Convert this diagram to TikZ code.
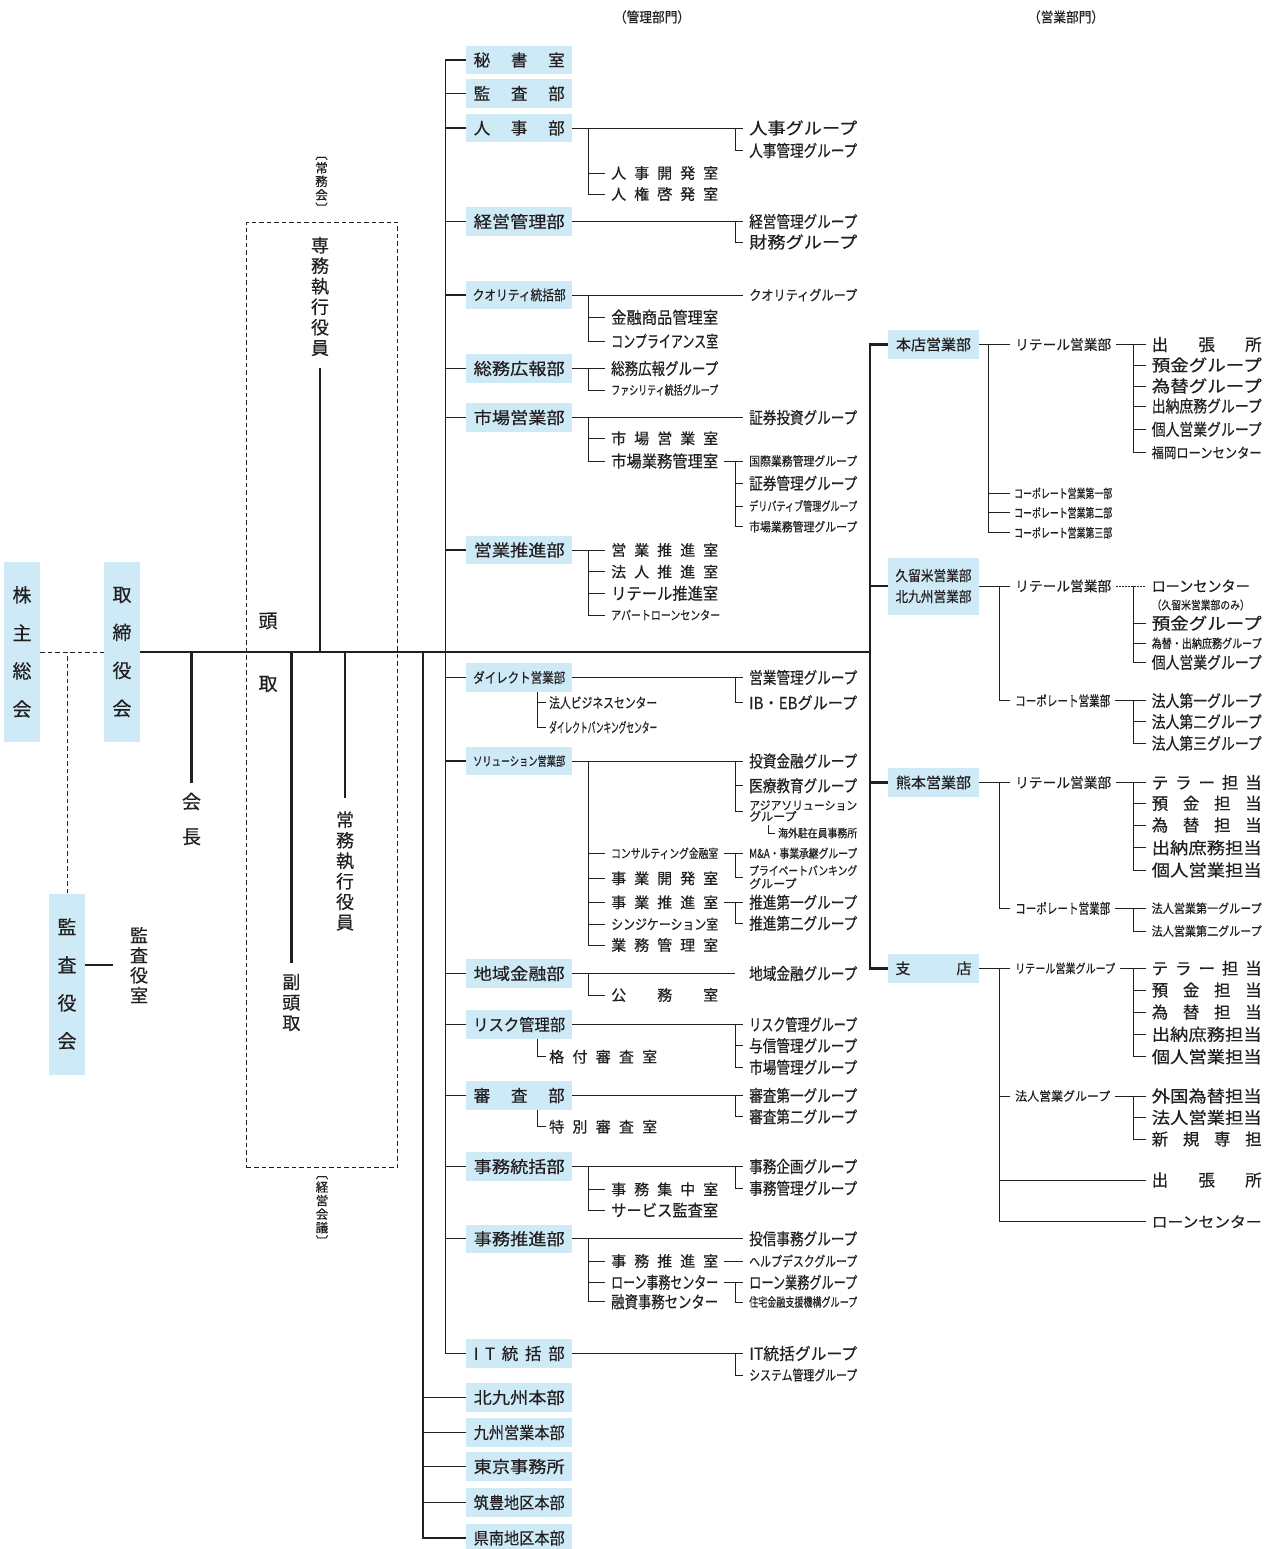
\documentclass[tikz,border=0pt]{standalone}
\usepackage{fontspec}
\setmainfont{Noto Sans CJK JP}[BoldFont={Noto Sans CJK JP}, BoldFeatures={FakeBold=0.4}]
\usepackage{graphicx}
\definecolor{boxblue}{RGB}{205,234,246}
\definecolor{ink}{RGB}{35,31,32}
\newcommand\fzA{\fontsize{16.5}{19}\selectfont}
\newcommand\fzS{\fontsize{15}{18}\selectfont}
\newcommand\fzB{\fontsize{14}{16}\selectfont}
\newcommand\fzC{\fontsize{12.5}{14}\selectfont}
\newcommand\fzD{\fontsize{11.5}{13}\selectfont}
\newsavebox\fitbx
\newcommand\fitw[2]{\sbox\fitbx{#2}\pgfmathsetmacro\fitf{#1/\the\wd\fitbx}\scalebox{\fitf}[1]{\usebox\fitbx}}
\ExplSyntaxOn
\NewDocumentCommand\spr{mm}{\makebox[#1pt]{\tl_map_inline:nn{#2}{##1\hfill}\unskip}}
\ExplSyntaxOff
\tikzset{
 box/.style={fill=boxblue, inner sep=0pt, minimum width=105.5pt, minimum height=28.4pt, font=\fzA},
 rbox/.style={box, minimum width=91pt},
 vbox/.style={fill=boxblue, inner sep=0pt, minimum width=36pt, minimum height=180pt, align=center, font=\fontsize{19}{38}\selectfont},
 lab/.style={anchor=west, inner xsep=6pt, inner ysep=0pt, font=\fzA},
 labn/.style={lab, inner xsep=3pt},
 labr/.style={lab, inner xsep=5pt, font=\fzB},
 vt/.style={inner sep=0pt, align=center, font=\fontsize{18}{20.5}\selectfont},
 ln/.style={line width=0.9pt},
 mainln/.style={line width=2.4pt},
 trunk/.style={line width=1.2pt},
 dsh/.style={line width=0.8pt, dash pattern=on 4.5pt off 3pt},
}
\begin{document}
\bfseries
\begin{tikzpicture}[x=1pt,y=-1pt,color=ink]
\fill[white] (0,0) rectangle (1269,1549);
\useasboundingbox (0,0) rectangle (1269,1549);

% headers
\node[font=\fzB, inner sep=0pt] (hd1) at (652,17) {\fitw{76}{（管理部門）}};
\node[font=\fzB, inner sep=0pt] (hd2) at (1066,17) {\fitw{76}{（営業部門）}};

% left part
\node[vbox] (kabu) at (22,652) {株\\主\\総\\会};
\node[vbox] (tori) at (122,652) {取\\締\\役\\会};
\node[vbox, minimum height=181pt] (kansayaku) at (67,984) {監\\査\\役\\会};
\node[vt, font=\fontsize{18}{20}\selectfont] (kshitsu) at (139,965) {監\\査\\役\\室};
\node[vt, font=\fontsize{19}{35}\selectfont] (kaicho) at (191.5,819) {会\\長};
\node[vt, font=\fontsize{19}{22}\selectfont] (tou) at (268,621) {頭};
\node[vt, font=\fontsize{19}{22}\selectfont] (dori) at (268,684) {取};
\node[vt] (fuku) at (291.3,1002.5) {副\\頭\\取};
\node[vt] (joumu) at (345,871) {常\\務\\執\\行\\役\\員};
\node[vt] (senmu) at (320,296.5) {専\\務\\執\\行\\役\\員};
\node[draw, dsh, minimum width=150.6pt, minimum height=945.7pt, inner sep=0pt] (kaigi) at (322,694.8) {};
\node[vt, font=\fontsize{12.5}{13.5}\selectfont] (jomukai) at (321.5,185) {︹\\常\\務\\会\\︺};
\node[vt, font=\fontsize{12.5}{13.5}\selectfont] (keieikaigi) at (322,1211) {︹\\経\\営\\会\\議\\︺};

\coordinate (mainR) at (870,652);
\draw[ln, dsh] (kabu.east) -- (tori.west);
\draw[ln, dsh] (kansayaku.north) -- (kansayaku.north |- kabu.east);
\draw[mainln] ([yshift=19pt]kansayaku.east) -- ([xshift=-17pt]kshitsu.west);
\draw[mainln] (tori.east) -- (mainR);
\draw[mainln] (kaicho.north |- mainR) -- ([yshift=10pt]kaicho.north);
\draw[mainln] (fuku.north |- mainR) -- ([yshift=11pt]fuku.north);
\draw[mainln] (joumu.north |- mainR) -- ([yshift=13pt]joumu.north);
\draw[mainln] (senmu.south |- mainR) -- ([yshift=-11.5pt]senmu.south);

% middle boxes
\node[box] (hisho) at (519.2,60) {\spr{91}{秘書室}};
\node[box] (kansabu) at (519.2,93.5) {\spr{91}{監査部}};
\node[box] (jinji) at (519.2,128) {\spr{91}{人事部}};
\node[box] (keiei) at (519.2,221.5) {\fitw{91}{経営管理部}};
\node[box, font=\fzB] (quality) at (519.2,295) {\fitw{93}{クオリティ統括部}};
\node[box] (somu) at (519.2,368.5) {\fitw{91}{総務広報部}};
\node[box] (shijo) at (519.2,417.5) {\fitw{91}{市場営業部}};
\node[box] (eisui) at (519.2,550) {\fitw{91}{営業推進部}};
\node[box, font=\fzB] (direct) at (519.2,677.5) {\fitw{92}{ダイレクト営業部}};
\node[box, font=\fzC] (solution) at (519.2,761) {\fitw{92}{ソリューション営業部}};
\node[box] (chiiki) at (519.2,973.5) {\fitw{91}{地域金融部}};
\node[box] (risk) at (519.2,1024.5) {\fitw{92}{リスク管理部}};
\node[box] (shinsa) at (519.2,1095.5) {\spr{91}{審査部}};
\node[box] (jimutou) at (519.2,1166.5) {\fitw{91}{事務統括部}};
\node[box] (jimusui) at (519.2,1238.8) {\fitw{91}{事務推進部}};
\node[box] (itbu) at (519.2,1353.5) {\spr{91}{IT統括部}};
\node[box] (kitahon) at (519.2,1397.5) {\fitw{91}{北九州本部}};
\node[box] (kyushu) at (519.2,1432.5) {\fitw{91}{九州営業本部}};
\node[box] (tokyo) at (519.2,1466.5) {\fitw{91}{東京事務所}};
\node[box] (chikuho) at (519.2,1502.5) {\fitw{91}{筑豊地区本部}};
\node[box] (kennan) at (519.2,1538) {\fitw{91}{県南地区本部}};

\draw[trunk] (hisho.west) -- ++(-20.5,0) |- (itbu.west);
\foreach \n in {kansabu,jinji,keiei,quality,somu,shijo,eisui,direct,solution,chiiki,risk,shinsa,jimutou,jimusui}
  \draw[trunk] (\n.west) -- ++(-20.5,0);
\coordinate (m423) at (423,652);
\draw[trunk] (m423) |- (kennan.west);
\foreach \n in {kitahon,kyushu,tokyo,chikuho}
  \draw[trunk] (\n.west) -- ++(-43.5,0);

% 人事部
\node[lab] (jg1) at (743,128) {\fitw{108}{人事グループ}};
\node[lab] (jg2) at (743,150.5) {\fitw{108}{人事管理グループ}};
\node[lab, font=\fzS] (jk1) at (605,173) {\spr{107}{人事開発室}};
\node[lab, font=\fzS] (jk2) at (605,194) {\spr{107}{人権啓発室}};
\draw[ln] (jinji.east) -- (jg1.west);
\draw[ln] ([xshift=-7.5pt]jg1.west) |- (jg2.west);
\draw[ln] ([xshift=16pt]jinji.east) |- (jk2.west);
\draw[ln] (jk1.west) -- ++(-17.5,0);

% 経営管理部
\node[lab] (kg1) at (743,221.5) {\fitw{108}{経営管理グループ}};
\node[lab] (kg2) at (743,242) {\fitw{108}{財務グループ}};
\draw[ln] (keiei.east) -- (kg1.west);
\draw[ln] ([xshift=-7.5pt]kg1.west) |- (kg2.west);

% クオリティ統括部
\node[lab, font=\fzB] (qg) at (743,295) {\fitw{108}{クオリティグループ}};
\node[lab] (qk1) at (605,317.3) {\fitw{107}{金融商品管理室}};
\node[lab] (qk2) at (605,341) {\fitw{107}{コンプライアンス室}};
\draw[ln] (quality.east) -- (qg.west);
\draw[ln] ([xshift=16pt]quality.east) |- (qk2.west);
\draw[ln] (qk1.west) -- ++(-17.5,0);

% 総務広報部
\node[lab] (sk1) at (605,368.5) {\fitw{107}{総務広報グループ}};
\node[lab, font=\fzC] (sk2) at (605,390) {\fitw{107}{ファシリティ統括グループ}};
\draw[ln] (somu.east) -- (sk1.west);
\draw[ln] ([xshift=16pt]somu.east) |- (sk2.west);

% 市場営業部
\node[lab] (sg0) at (743,417.5) {\fitw{108}{証券投資グループ}};
\node[lab, font=\fzS] (mk1) at (605,438.3) {\spr{107}{市場営業室}};
\node[lab] (mk2) at (605,461) {\fitw{107}{市場業務管理室}};
\node[lab, font=\fzC] (sg1) at (743,461) {\fitw{108}{国際業務管理グループ}};
\node[lab] (sg2) at (743,483.3) {\fitw{108}{証券管理グループ}};
\node[lab, font=\fzC] (sg3) at (743,506) {\fitw{108}{デリバティブ管理グループ}};
\node[lab, font=\fzC] (sg4) at (743,526.7) {\fitw{108}{市場業務管理グループ}};
\draw[ln] (shijo.east) -- (sg0.west);
\draw[ln] ([xshift=16pt]shijo.east) |- (mk2.west);
\draw[ln] (mk1.west) -- ++(-17.5,0);
\draw[ln] (mk2.east) -- (sg1.west);
\draw[ln] ([xshift=-7.5pt]sg1.west) |- (sg4.west);
\draw[ln] (sg2.west) -- ++(-7.5,0);
\draw[ln] (sg3.west) -- ++(-7.5,0);

% 営業推進部
\node[lab, font=\fzS] (ek1) at (605,550) {\spr{107}{営業推進室}};
\node[lab, font=\fzS] (ek2) at (605,571.7) {\spr{107}{法人推進室}};
\node[lab] (ek3) at (605,593.3) {\fitw{107}{リテール推進室}};
\node[lab, font=\fzC] (ek4) at (605,615) {\fitw{109}{アパートローンセンター}};
\draw[ln] (eisui.east) -- (ek1.west);
\draw[ln] ([xshift=16pt]eisui.east) |- (ek4.west);
\draw[ln] (ek2.west) -- ++(-17.5,0);
\draw[ln] (ek3.west) -- ++(-17.5,0);

% ダイレクト営業部
\node[lab] (dg1) at (743,677.5) {\fitw{108}{営業管理グループ}};
\node[lab] (dg2) at (743,702.7) {\fitw{108}{IB・EBグループ}};
\node[labn, font=\fzB] (dk1) at (546,702.7) {\fitw{108}{法人ビジネスセンター}};
\node[labn, font=\fzB] (dk2) at (546,727.3) {\fitw{108}{ダイレクトバンキングセンター}};
\draw[ln] (direct.east) -- (dg1.west);
\draw[ln] ([xshift=-7.5pt]dg1.west) |- (dg2.west);
\draw[ln] ([xshift=71.2pt]direct.south west) |- (dk2.west);
\draw[ln] (dk1.west) -- ++(-8.3,0);

% ソリューション営業部
\node[lab] (og1) at (743,761) {\fitw{108}{投資金融グループ}};
\node[lab] (og2) at (743,785.7) {\fitw{108}{医療教育グループ}};
\node[lab, font=\fontsize{12}{11}\selectfont, align=left] (og3) at (743,811) {\fitw{108}{アジアソリューション}\\グループ};
\coordinate (kgtop) at (768,825);
\node[labn, font=\fzD] (kaigai) at (775,833) {\fitw{79}{海外駐在員事務所}};
\draw[ln] (kgtop) |- (kaigai.west);
\node[lab, font=\fzC] (ok1) at (605,853.3) {\fitw{107}{コンサルティング金融室}};
\node[lab, font=\fzS] (ok2) at (605,878.3) {\spr{107}{事業開発室}};
\node[lab, font=\fzS] (ok3) at (605,902.3) {\spr{107}{事業推進室}};
\node[lab, font=\fzB] (ok4) at (605,924) {\fitw{107}{シンジケーション室}};
\node[lab, font=\fzS] (ok5) at (605,945) {\spr{107}{業務管理室}};
\node[lab, font=\fzC] (pg1) at (743,853.3) {\fitw{108}{M\&A・事業承継グループ}};
\node[lab, font=\fontsize{12}{13}\selectfont, align=left] (pg2) at (743,877) {\fitw{108}{プライベートバンキング}\\グループ};
\node[lab] (tg1) at (743,902.3) {\fitw{108}{推進第一グループ}};
\node[lab] (tg2) at (743,923.3) {\fitw{108}{推進第二グループ}};
\draw[ln] (solution.east) -- (og1.west);
\draw[ln] ([xshift=-7.5pt]og1.west) |- (og3.west);
\draw[ln] (og2.west) -- ++(-7.5,0);
\draw[ln] ([xshift=16pt]solution.east) |- (ok5.west);
\foreach \n in {ok1,ok2,ok3,ok4} \draw[ln] (\n.west) -- ++(-17.5,0);
\draw[ln] (ok1.east) -- (pg1.west);
\draw[ln] ([xshift=-7.5pt]pg1.west) |- (pg2.west);
\draw[ln] (ok3.east) -- (tg1.west);
\draw[ln] ([xshift=-7.5pt]tg1.west) |- (tg2.west);

% 地域金融部
\node[lab] (cg) at (743,973.5) {\fitw{108}{地域金融グループ}};
\node[lab, font=\fzS] (ck1) at (605,995) {\spr{107}{公務室}};
\draw[ln] (chiiki.east) -- ([xshift=-8pt]cg.west);
\draw[ln] ([xshift=16pt]chiiki.east) |- (ck1.west);

% リスク管理部
\node[lab] (rg1) at (743,1024.5) {\fitw{108}{リスク管理グループ}};
\node[lab] (rg2) at (743,1045.7) {\fitw{108}{与信管理グループ}};
\node[lab] (rg3) at (743,1067.3) {\fitw{108}{市場管理グループ}};
\node[labn, font=\fzS] (rk1) at (546,1056.7) {\spr{108}{格付審査室}};
\draw[ln] (risk.east) -- (rg1.west);
\draw[ln] ([xshift=-7.5pt]rg1.west) |- (rg3.west);
\draw[ln] (rg2.west) -- ++(-7.5,0);
\draw[ln] ([xshift=71.2pt]risk.south west) |- (rk1.west);

% 審査部
\node[lab] (shg1) at (743,1095.5) {\fitw{108}{審査第一グループ}};
\node[lab] (shg2) at (743,1116.7) {\fitw{108}{審査第二グループ}};
\node[labn, font=\fzS] (shk1) at (546,1126.7) {\spr{108}{特別審査室}};
\draw[ln] (shinsa.east) -- (shg1.west);
\draw[ln] ([xshift=-7.5pt]shg1.west) |- (shg2.west);
\draw[ln] ([xshift=71.2pt]shinsa.south west) |- (shk1.west);

% 事務統括部
\node[lab] (jtg1) at (743,1166.5) {\fitw{108}{事務企画グループ}};
\node[lab] (jtg2) at (743,1188.3) {\fitw{108}{事務管理グループ}};
\node[lab, font=\fzS] (jtk1) at (605,1189.3) {\spr{107}{事務集中室}};
\node[lab] (jtk2) at (605,1210) {\fitw{107}{サービス監査室}};
\draw[ln] (jimutou.east) -- (jtg1.west);
\draw[ln] ([xshift=-7.5pt]jtg1.west) |- (jtg2.west);
\draw[ln] ([xshift=16pt]jimutou.east) |- (jtk2.west);
\draw[ln] (jtk1.west) -- ++(-17.5,0);

% 事務推進部
\node[lab] (jsg1) at (743,1238.8) {\fitw{108}{投信事務グループ}};
\node[lab, font=\fzS] (jsk1) at (605,1261) {\spr{107}{事務推進室}};
\node[lab] (jsk2) at (605,1282.3) {\fitw{107}{ローン事務センター}};
\node[lab] (jsk3) at (605,1301.7) {\fitw{107}{融資事務センター}};
\node[lab, font=\fzB] (hg) at (743,1261) {\fitw{108}{ヘルプデスクグループ}};
\node[lab] (lg1) at (743,1282.3) {\fitw{108}{ローン業務グループ}};
\node[lab, font=\fzC] (lg2) at (743,1302) {\fitw{108}{住宅金融支援機構グループ}};
\draw[ln] (jimusui.east) -- (jsg1.west);
\draw[ln] ([xshift=16pt]jimusui.east) |- (jsk3.west);
\draw[ln] (jsk1.west) -- ++(-17.5,0);
\draw[ln] (jsk2.west) -- ++(-17.5,0);
\draw[ln] (jsk1.east) -- (hg.west);
\draw[ln] (jsk2.east) -- (lg1.west);
\draw[ln] ([xshift=-7.5pt]lg1.west) |- (lg2.west);

% IT統括部
\node[lab] (itg1) at (743,1353.5) {\fitw{108}{IT統括グループ}};
\node[lab, font=\fzB] (itg2) at (743,1375) {\fitw{108}{システム管理グループ}};
\draw[ln] (itbu.east) -- (itg1.west);
\draw[ln] ([xshift=-7.5pt]itg1.west) |- (itg2.west);

% right boxes
\node[rbox, font=\fzS] (honten) at (933.5,344.5) {\fitw{75}{本店営業部}};
\node[rbox, font=\fontsize{14.5}{21}\selectfont, minimum height=57pt, align=center] (kurume) at (933.5,586) {\fitw{76}{久留米営業部}\\\fitw{76}{北九州営業部}};
\node[rbox, font=\fzS] (kuma) at (933.5,782.5) {\fitw{75}{熊本営業部}};
\node[rbox, font=\fzS] (shiten) at (933.5,968.3) {\spr{76}{支店}};
\draw[mainln] (honten.west) -- ++(-18,0) |- (shiten.west);
\draw[mainln] (kurume.west) -- ++(-18,0);
\draw[mainln] (kuma.west) -- ++(-18,0);

% 本店営業部
\node[labr] (hr) at (1010,344.5) {\fitw{96}{リテール営業部}};
\node[lab, inner xsep=4pt, font=\fzC] (hc1) at (1010,493.3) {\fitw{98}{コーポレート営業第一部}};
\node[lab, inner xsep=4pt, font=\fzC] (hc2) at (1010,512.7) {\fitw{98}{コーポレート営業第二部}};
\node[lab, inner xsep=4pt, font=\fzC] (hc3) at (1010,532.7) {\fitw{98}{コーポレート営業第三部}};
\draw[ln] (honten.east) -- (hr.west);
\draw[ln] ([xshift=9.3pt]honten.east) |- (hc3.west);
\draw[ln] (hc1.west) -- ++(-21.7,0);
\draw[ln] (hc2.west) -- ++(-21.7,0);
\node[lab] (h1) at (1145.5,344.5) {\spr{110}{出張所}};
\node[lab] (h2) at (1145.5,365) {\fitw{110}{預金グループ}};
\node[lab] (h3) at (1145.5,386) {\fitw{110}{為替グループ}};
\node[lab] (h4) at (1145.5,406) {\fitw{110}{出納庶務グループ}};
\node[lab] (h5) at (1145.5,429.3) {\fitw{110}{個人営業グループ}};
\node[lab, font=\fzB] (h6) at (1145.5,452.7) {\fitw{110}{福岡ローンセンター}};
\draw[ln] (hr.east) -- (h1.west);
\draw[ln] ([xshift=-12.2pt]h1.west) |- (h6.west);
\foreach \n in {h2,h3,h4,h5} \draw[ln] (\n.west) -- ++(-12.2,0);

% 久留米・北九州営業部
\node[labr] (kr) at (1010,586) {\fitw{96}{リテール営業部}};
\node[lab, font=\fzS] (kl) at (1145.5,586) {\fitw{98}{ローンセンター}};
\node[lab, font=\fzD] (knote) at (1145.5,605) {\fitw{98}{（久留米営業部のみ）}};
\node[lab] (k2) at (1145.5,623.3) {\fitw{110}{預金グループ}};
\node[lab, font=\fzC] (k3) at (1145.5,643.3) {\fitw{110}{為替・出納庶務グループ}};
\node[lab] (k4) at (1145.5,662.3) {\fitw{110}{個人営業グループ}};
\draw[ln] (kurume.east) -- (kr.west);
\draw[ln, dash pattern=on 1.5pt off 1.5pt] (kr.east) -- (kl.west);
\draw[ln] ([xshift=-12.2pt]kl.west) |- (k4.west);
\draw[ln] (k2.west) -- ++(-12.2,0);
\draw[ln] (k3.west) -- ++(-12.2,0);
\node[labr] (kc) at (1010,700.7) {\fitw{95}{コーポレート営業部}};
\node[lab] (kc1) at (1145.5,700.7) {\fitw{110}{法人第一グループ}};
\node[lab] (kc2) at (1145.5,721.7) {\fitw{110}{法人第二グループ}};
\node[lab] (kc3) at (1145.5,743.3) {\fitw{110}{法人第三グループ}};
\draw[ln] ([xshift=20.3pt]kurume.east) |- (kc.west);
\draw[ln] (kc.east) -- (kc1.west);
\draw[ln] ([xshift=-12.2pt]kc1.west) |- (kc3.west);
\draw[ln] (kc2.west) -- ++(-12.2,0);

% 熊本営業部
\node[labr] (mr) at (1010,782.5) {\fitw{96}{リテール営業部}};
\node[lab] (m1) at (1145.5,782.5) {\spr{110}{テラー担当}};
\node[lab] (m2) at (1145.5,803.3) {\spr{110}{預金担当}};
\node[lab] (m3) at (1145.5,825) {\spr{110}{為替担当}};
\node[lab] (m4) at (1145.5,847.7) {\fitw{110}{出納庶務担当}};
\node[lab] (m5) at (1145.5,870) {\fitw{110}{個人営業担当}};
\draw[ln] (kuma.east) -- (mr.west);
\draw[ln] (mr.east) -- (m1.west);
\draw[ln] ([xshift=-12.2pt]m1.west) |- (m5.west);
\foreach \n in {m2,m3,m4} \draw[ln] (\n.west) -- ++(-12.2,0);
\node[labr] (mc) at (1010,908.3) {\fitw{95}{コーポレート営業部}};
\node[lab, font=\fzC] (mc1) at (1145.5,908.3) {\fitw{110}{法人営業第一グループ}};
\node[lab, font=\fzC] (mc2) at (1145.5,931) {\fitw{110}{法人営業第二グループ}};
\draw[ln] ([xshift=20.3pt]kuma.east) |- (mc.west);
\draw[ln] (mc.east) -- (mc1.west);
\draw[ln] ([xshift=-12.2pt]mc1.west) |- (mc2.west);

% 支店
\node[labr, font=\fzC] (sr) at (1010,968.3) {\fitw{100}{リテール営業グループ}};
\node[lab] (t1) at (1145.5,968.3) {\spr{110}{テラー担当}};
\node[lab] (t2) at (1145.5,990) {\spr{110}{預金担当}};
\node[lab] (t3) at (1145.5,1012) {\spr{110}{為替担当}};
\node[lab] (t4) at (1145.5,1034.3) {\fitw{110}{出納庶務担当}};
\node[lab] (t5) at (1145.5,1056.7) {\fitw{110}{個人営業担当}};
\draw[ln] (shiten.east) -- (sr.west);
\draw[ln] (sr.east) -- (t1.west);
\draw[ln] ([xshift=-12.2pt]t1.west) |- (t5.west);
\foreach \n in {t2,t3,t4} \draw[ln] (\n.west) -- ++(-12.2,0);
\node[labr, font=\fzC] (sc) at (1010,1096) {\fitw{95}{法人営業グループ}};
\node[lab] (sc1) at (1145.5,1096) {\fitw{110}{外国為替担当}};
\node[lab] (sc2) at (1145.5,1117.5) {\fitw{110}{法人営業担当}};
\node[lab] (sc3) at (1145.5,1139) {\spr{110}{新規専担}};
\draw[ln] (sc.east) -- (sc1.west);
\draw[ln] ([xshift=-12.2pt]sc1.west) |- (sc3.west);
\draw[ln] (sc2.west) -- ++(-12.2,0);
\node[lab] (st) at (1145.5,1180) {\spr{110}{出張所}};
\node[lab, font=\fzS] (sl) at (1145.5,1221.7) {\fitw{110}{ローンセンター}};
\draw[ln] ([xshift=20.3pt]shiten.east) |- (sl.west);
\draw[ln] (sc.west) -- ++(-10.7,0);
\draw[ln] (st.west) -- ++(-146.2,0);
\end{tikzpicture}
\end{document}
